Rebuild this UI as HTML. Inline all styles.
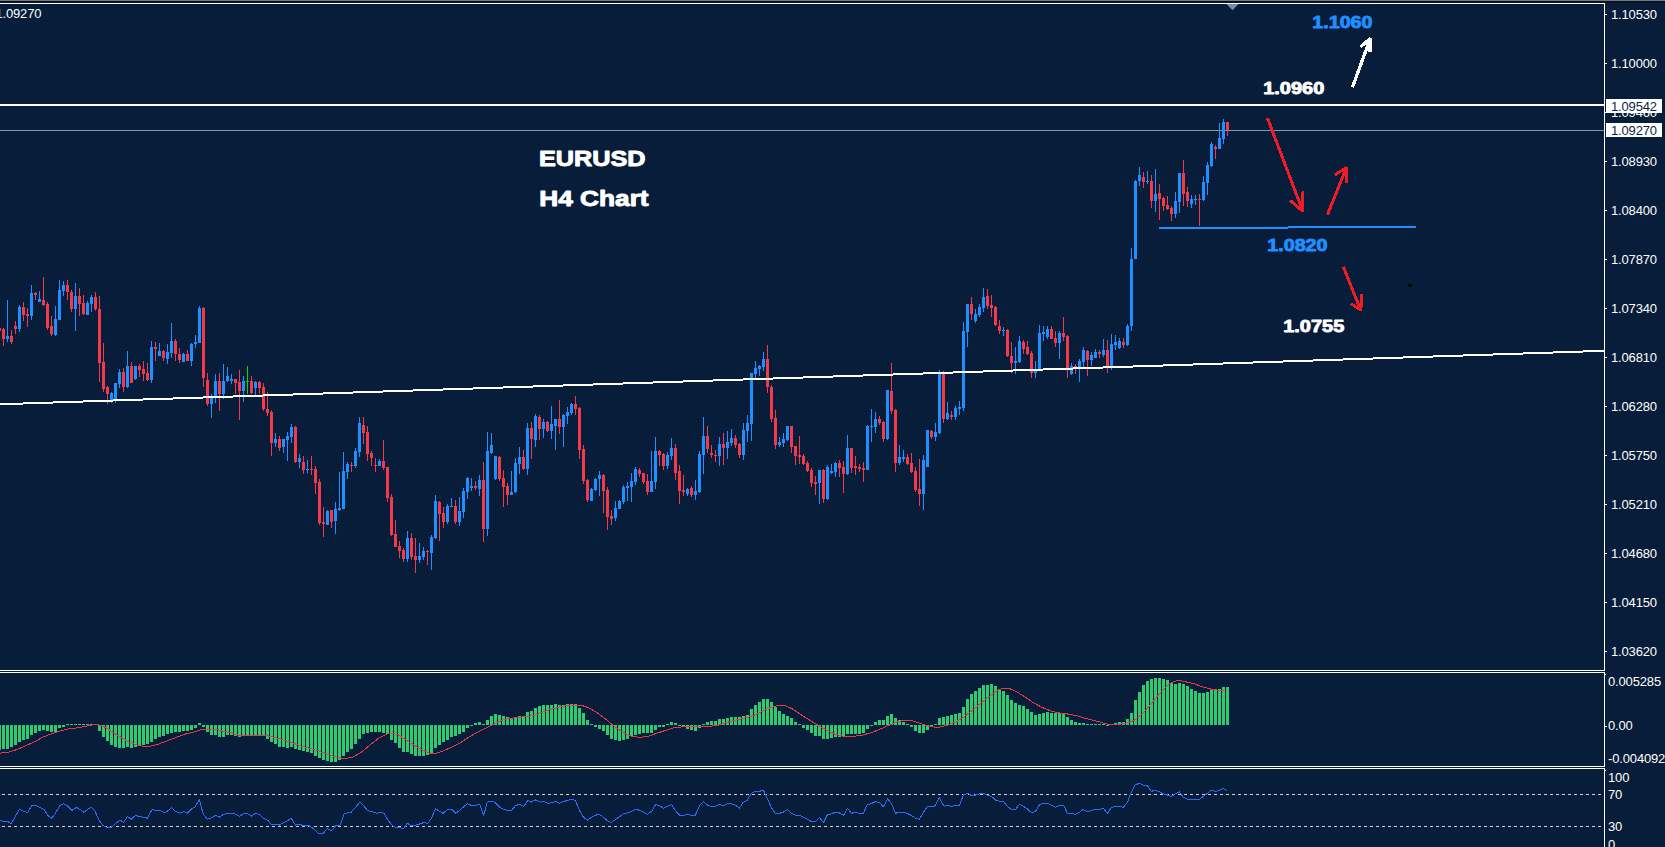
<!DOCTYPE html>
<html lang="en"><head><meta charset="utf-8"><title>EURUSD H4 Chart</title>
<style>html,body{margin:0;padding:0;background:#081d3a;}body{width:1665px;height:847px;overflow:hidden;position:relative;}</style>
</head><body>
<svg width="1665" height="847" viewBox="0 0 1665 847" style="display:block;position:absolute;left:0;top:0">
<rect width="1665" height="847" fill="#081d3a"/>
<g shape-rendering="crispEdges">
<rect x="0" y="0" width="1665" height="1" fill="#7b7872"/>
<rect x="0" y="1" width="1665" height="2" fill="#03132c"/>
<rect x="0" y="3" width="1605" height="1" fill="#fff"/>
<rect x="1604" y="3" width="1" height="668" fill="#fff"/>
<rect x="0" y="670" width="1605" height="1" fill="#fff"/>
<rect x="0" y="672" width="1605" height="1" fill="#fff"/>
<rect x="1604" y="672" width="1" height="95" fill="#fff"/>
<rect x="0" y="766" width="1605" height="1" fill="#fff"/>
<rect x="0" y="768" width="1605" height="1" fill="#fff"/>
<rect x="1604" y="768" width="1" height="79" fill="#fff"/>
<rect x="0" y="104" width="1604" height="2" fill="#fff"/>
<rect x="0" y="130" width="1604" height="1" fill="#8796a8"/>
<rect x="1605" y="14" width="2" height="1" fill="#fff"/>
<rect x="1605" y="63" width="2" height="1" fill="#fff"/>
<rect x="1605" y="112" width="2" height="1" fill="#fff"/>
<rect x="1605" y="161" width="2" height="1" fill="#fff"/>
<rect x="1605" y="210" width="2" height="1" fill="#fff"/>
<rect x="1605" y="259" width="2" height="1" fill="#fff"/>
<rect x="1605" y="308" width="2" height="1" fill="#fff"/>
<rect x="1605" y="357" width="2" height="1" fill="#fff"/>
<rect x="1605" y="406" width="2" height="1" fill="#fff"/>
<rect x="1605" y="455" width="2" height="1" fill="#fff"/>
<rect x="1605" y="504" width="2" height="1" fill="#fff"/>
<rect x="1605" y="553" width="2" height="1" fill="#fff"/>
<rect x="1605" y="602" width="2" height="1" fill="#fff"/>
<rect x="1605" y="651" width="2" height="1" fill="#fff"/>
<rect x="1605" y="674" width="1" height="1" fill="#fff"/>
<rect x="1605" y="726" width="2" height="1" fill="#fff"/>
<rect x="1605" y="770" width="1" height="1" fill="#fff"/>
</g>
<g shape-rendering="crispEdges">
<rect x="-1" y="328" width="1" height="3" fill="#f23a4a"/>
<rect x="-2" y="328" width="3" height="3" fill="#f23a4a"/>
<rect x="3" y="328" width="1" height="18" fill="#f23a4a"/>
<rect x="2" y="329" width="3" height="10" fill="#f23a4a"/>
<rect x="7" y="300" width="1" height="42" fill="#1e90ff"/>
<rect x="6" y="336" width="3" height="3" fill="#1e90ff"/>
<rect x="11" y="330" width="1" height="14" fill="#f23a4a"/>
<rect x="10" y="336" width="3" height="6" fill="#f23a4a"/>
<rect x="15" y="321" width="1" height="13" fill="#f23a4a"/>
<rect x="14" y="326" width="3" height="3" fill="#f23a4a"/>
<rect x="19" y="305" width="1" height="27" fill="#1e90ff"/>
<rect x="18" y="307" width="3" height="22" fill="#1e90ff"/>
<rect x="23" y="302" width="1" height="19" fill="#f23a4a"/>
<rect x="22" y="307" width="3" height="8" fill="#f23a4a"/>
<rect x="27" y="308" width="1" height="19" fill="#f23a4a"/>
<rect x="26" y="314" width="3" height="2" fill="#f23a4a"/>
<rect x="31" y="285" width="1" height="35" fill="#1e90ff"/>
<rect x="30" y="293" width="3" height="23" fill="#1e90ff"/>
<rect x="35" y="292" width="1" height="8" fill="#f23a4a"/>
<rect x="34" y="293" width="3" height="2" fill="#f23a4a"/>
<rect x="39" y="291" width="1" height="11" fill="#1e90ff"/>
<rect x="38" y="299" width="3" height="3" fill="#1e90ff"/>
<rect x="43" y="277" width="1" height="29" fill="#f23a4a"/>
<rect x="42" y="300" width="3" height="5" fill="#f23a4a"/>
<rect x="47" y="302" width="1" height="28" fill="#f23a4a"/>
<rect x="46" y="304" width="3" height="24" fill="#f23a4a"/>
<rect x="51" y="316" width="1" height="20" fill="#f23a4a"/>
<rect x="50" y="326" width="3" height="8" fill="#f23a4a"/>
<rect x="55" y="306" width="1" height="30" fill="#1e90ff"/>
<rect x="54" y="319" width="3" height="16" fill="#1e90ff"/>
<rect x="59" y="280" width="1" height="40" fill="#1e90ff"/>
<rect x="58" y="290" width="3" height="30" fill="#1e90ff"/>
<rect x="63" y="281" width="1" height="15" fill="#1e90ff"/>
<rect x="62" y="285" width="3" height="6" fill="#1e90ff"/>
<rect x="67" y="280" width="1" height="20" fill="#f23a4a"/>
<rect x="66" y="285" width="3" height="7" fill="#f23a4a"/>
<rect x="71" y="290" width="1" height="22" fill="#f23a4a"/>
<rect x="70" y="292" width="3" height="17" fill="#f23a4a"/>
<rect x="75" y="283" width="1" height="48" fill="#1e90ff"/>
<rect x="74" y="296" width="3" height="13" fill="#1e90ff"/>
<rect x="79" y="288" width="1" height="28" fill="#f23a4a"/>
<rect x="78" y="296" width="3" height="8" fill="#f23a4a"/>
<rect x="83" y="295" width="1" height="20" fill="#f23a4a"/>
<rect x="82" y="303" width="3" height="11" fill="#f23a4a"/>
<rect x="87" y="301" width="1" height="14" fill="#1e90ff"/>
<rect x="86" y="303" width="3" height="12" fill="#1e90ff"/>
<rect x="91" y="295" width="1" height="17" fill="#1e90ff"/>
<rect x="90" y="297" width="3" height="7" fill="#1e90ff"/>
<rect x="95" y="292" width="1" height="19" fill="#f23a4a"/>
<rect x="94" y="297" width="3" height="12" fill="#f23a4a"/>
<rect x="99" y="296" width="1" height="86" fill="#f23a4a"/>
<rect x="98" y="309" width="3" height="54" fill="#f23a4a"/>
<rect x="103" y="343" width="1" height="49" fill="#f23a4a"/>
<rect x="102" y="362" width="3" height="27" fill="#f23a4a"/>
<rect x="107" y="386" width="1" height="18" fill="#f23a4a"/>
<rect x="106" y="387" width="3" height="7" fill="#f23a4a"/>
<rect x="111" y="392" width="1" height="11" fill="#1e90ff"/>
<rect x="110" y="393" width="3" height="8" fill="#1e90ff"/>
<rect x="115" y="383" width="1" height="20" fill="#1e90ff"/>
<rect x="114" y="383" width="3" height="17" fill="#1e90ff"/>
<rect x="119" y="369" width="1" height="19" fill="#1e90ff"/>
<rect x="118" y="372" width="3" height="12" fill="#1e90ff"/>
<rect x="123" y="368" width="1" height="24" fill="#f23a4a"/>
<rect x="122" y="372" width="3" height="15" fill="#f23a4a"/>
<rect x="127" y="351" width="1" height="37" fill="#1e90ff"/>
<rect x="126" y="366" width="3" height="21" fill="#1e90ff"/>
<rect x="131" y="362" width="1" height="21" fill="#f23a4a"/>
<rect x="130" y="366" width="3" height="17" fill="#f23a4a"/>
<rect x="135" y="366" width="1" height="14" fill="#1e90ff"/>
<rect x="134" y="366" width="3" height="13" fill="#1e90ff"/>
<rect x="139" y="364" width="1" height="13" fill="#f23a4a"/>
<rect x="138" y="366" width="3" height="4" fill="#f23a4a"/>
<rect x="143" y="361" width="1" height="20" fill="#f23a4a"/>
<rect x="142" y="369" width="3" height="5" fill="#f23a4a"/>
<rect x="147" y="363" width="1" height="18" fill="#f23a4a"/>
<rect x="146" y="373" width="3" height="7" fill="#f23a4a"/>
<rect x="151" y="341" width="1" height="42" fill="#1e90ff"/>
<rect x="150" y="347" width="3" height="33" fill="#1e90ff"/>
<rect x="155" y="342" width="1" height="19" fill="#f23a4a"/>
<rect x="154" y="347" width="3" height="2" fill="#f23a4a"/>
<rect x="159" y="343" width="1" height="13" fill="#1e90ff"/>
<rect x="158" y="351" width="3" height="5" fill="#1e90ff"/>
<rect x="163" y="350" width="1" height="11" fill="#f23a4a"/>
<rect x="162" y="351" width="3" height="7" fill="#f23a4a"/>
<rect x="167" y="344" width="1" height="20" fill="#1e90ff"/>
<rect x="166" y="352" width="3" height="7" fill="#1e90ff"/>
<rect x="171" y="323" width="1" height="35" fill="#1e90ff"/>
<rect x="170" y="341" width="3" height="12" fill="#1e90ff"/>
<rect x="175" y="339" width="1" height="22" fill="#f23a4a"/>
<rect x="174" y="341" width="3" height="13" fill="#f23a4a"/>
<rect x="179" y="348" width="1" height="15" fill="#f23a4a"/>
<rect x="178" y="354" width="3" height="6" fill="#f23a4a"/>
<rect x="183" y="353" width="1" height="9" fill="#1e90ff"/>
<rect x="182" y="354" width="3" height="8" fill="#1e90ff"/>
<rect x="187" y="350" width="1" height="11" fill="#f23a4a"/>
<rect x="186" y="354" width="3" height="7" fill="#f23a4a"/>
<rect x="191" y="343" width="1" height="23" fill="#1e90ff"/>
<rect x="190" y="344" width="3" height="17" fill="#1e90ff"/>
<rect x="195" y="335" width="1" height="13" fill="#1e90ff"/>
<rect x="194" y="342" width="3" height="2" fill="#1e90ff"/>
<rect x="199" y="306" width="1" height="37" fill="#1e90ff"/>
<rect x="198" y="308" width="3" height="35" fill="#1e90ff"/>
<rect x="203" y="307" width="1" height="80" fill="#f23a4a"/>
<rect x="202" y="308" width="3" height="70" fill="#f23a4a"/>
<rect x="207" y="373" width="1" height="33" fill="#f23a4a"/>
<rect x="206" y="380" width="3" height="24" fill="#f23a4a"/>
<rect x="211" y="394" width="1" height="24" fill="#1e90ff"/>
<rect x="210" y="397" width="3" height="7" fill="#1e90ff"/>
<rect x="215" y="374" width="1" height="29" fill="#1e90ff"/>
<rect x="214" y="381" width="3" height="17" fill="#1e90ff"/>
<rect x="219" y="373" width="1" height="38" fill="#f23a4a"/>
<rect x="218" y="381" width="3" height="13" fill="#f23a4a"/>
<rect x="223" y="364" width="1" height="35" fill="#1e90ff"/>
<rect x="222" y="381" width="3" height="13" fill="#1e90ff"/>
<rect x="227" y="367" width="1" height="15" fill="#1e90ff"/>
<rect x="226" y="376" width="3" height="5" fill="#1e90ff"/>
<rect x="231" y="374" width="1" height="10" fill="#1e90ff"/>
<rect x="230" y="379" width="3" height="2" fill="#1e90ff"/>
<rect x="235" y="379" width="1" height="15" fill="#f23a4a"/>
<rect x="234" y="379" width="3" height="4" fill="#f23a4a"/>
<rect x="239" y="370" width="1" height="50" fill="#f23a4a"/>
<rect x="238" y="382" width="3" height="9" fill="#f23a4a"/>
<rect x="243" y="376" width="1" height="26" fill="#1e90ff"/>
<rect x="242" y="381" width="3" height="10" fill="#1e90ff"/>
<rect x="247" y="366" width="1" height="28" fill="#00e000"/>
<rect x="246" y="381" width="3" height="1" fill="#00e000"/>
<rect x="251" y="376" width="1" height="18" fill="#f23a4a"/>
<rect x="250" y="381" width="3" height="12" fill="#f23a4a"/>
<rect x="255" y="381" width="1" height="14" fill="#1e90ff"/>
<rect x="254" y="382" width="3" height="6" fill="#1e90ff"/>
<rect x="259" y="381" width="1" height="13" fill="#f23a4a"/>
<rect x="258" y="382" width="3" height="6" fill="#f23a4a"/>
<rect x="263" y="383" width="1" height="28" fill="#f23a4a"/>
<rect x="262" y="387" width="3" height="22" fill="#f23a4a"/>
<rect x="267" y="392" width="1" height="24" fill="#f23a4a"/>
<rect x="266" y="409" width="3" height="4" fill="#f23a4a"/>
<rect x="271" y="410" width="1" height="46" fill="#f23a4a"/>
<rect x="270" y="412" width="3" height="31" fill="#f23a4a"/>
<rect x="275" y="433" width="1" height="14" fill="#1e90ff"/>
<rect x="274" y="439" width="3" height="4" fill="#1e90ff"/>
<rect x="279" y="436" width="1" height="15" fill="#f23a4a"/>
<rect x="278" y="439" width="3" height="9" fill="#f23a4a"/>
<rect x="283" y="439" width="1" height="14" fill="#1e90ff"/>
<rect x="282" y="439" width="3" height="8" fill="#1e90ff"/>
<rect x="287" y="432" width="1" height="29" fill="#1e90ff"/>
<rect x="286" y="436" width="3" height="4" fill="#1e90ff"/>
<rect x="291" y="424" width="1" height="19" fill="#1e90ff"/>
<rect x="290" y="427" width="3" height="10" fill="#1e90ff"/>
<rect x="295" y="426" width="1" height="37" fill="#f23a4a"/>
<rect x="294" y="427" width="3" height="35" fill="#f23a4a"/>
<rect x="299" y="454" width="1" height="14" fill="#1e90ff"/>
<rect x="298" y="458" width="3" height="4" fill="#1e90ff"/>
<rect x="303" y="456" width="1" height="18" fill="#f23a4a"/>
<rect x="302" y="462" width="3" height="8" fill="#f23a4a"/>
<rect x="307" y="460" width="1" height="13" fill="#1e90ff"/>
<rect x="306" y="469" width="3" height="1" fill="#1e90ff"/>
<rect x="311" y="456" width="1" height="19" fill="#f23a4a"/>
<rect x="310" y="469" width="3" height="1" fill="#f23a4a"/>
<rect x="315" y="466" width="1" height="28" fill="#f23a4a"/>
<rect x="314" y="469" width="3" height="14" fill="#f23a4a"/>
<rect x="319" y="479" width="1" height="46" fill="#f23a4a"/>
<rect x="318" y="482" width="3" height="41" fill="#f23a4a"/>
<rect x="323" y="507" width="1" height="30" fill="#f23a4a"/>
<rect x="322" y="522" width="3" height="2" fill="#f23a4a"/>
<rect x="327" y="510" width="1" height="15" fill="#1e90ff"/>
<rect x="326" y="511" width="3" height="14" fill="#1e90ff"/>
<rect x="331" y="510" width="1" height="18" fill="#f23a4a"/>
<rect x="330" y="510" width="3" height="12" fill="#f23a4a"/>
<rect x="335" y="502" width="1" height="32" fill="#1e90ff"/>
<rect x="334" y="509" width="3" height="12" fill="#1e90ff"/>
<rect x="339" y="472" width="1" height="39" fill="#1e90ff"/>
<rect x="338" y="508" width="3" height="2" fill="#1e90ff"/>
<rect x="343" y="452" width="1" height="57" fill="#1e90ff"/>
<rect x="342" y="471" width="3" height="38" fill="#1e90ff"/>
<rect x="347" y="462" width="1" height="17" fill="#1e90ff"/>
<rect x="346" y="464" width="3" height="8" fill="#1e90ff"/>
<rect x="351" y="462" width="1" height="10" fill="#f23a4a"/>
<rect x="350" y="465" width="3" height="1" fill="#f23a4a"/>
<rect x="355" y="448" width="1" height="20" fill="#1e90ff"/>
<rect x="354" y="451" width="3" height="15" fill="#1e90ff"/>
<rect x="359" y="417" width="1" height="40" fill="#1e90ff"/>
<rect x="358" y="423" width="3" height="29" fill="#1e90ff"/>
<rect x="363" y="417" width="1" height="27" fill="#f23a4a"/>
<rect x="362" y="425" width="3" height="8" fill="#f23a4a"/>
<rect x="367" y="426" width="1" height="35" fill="#f23a4a"/>
<rect x="366" y="432" width="3" height="22" fill="#f23a4a"/>
<rect x="371" y="451" width="1" height="15" fill="#f23a4a"/>
<rect x="370" y="453" width="3" height="5" fill="#f23a4a"/>
<rect x="375" y="458" width="1" height="14" fill="#f23a4a"/>
<rect x="374" y="465" width="3" height="1" fill="#f23a4a"/>
<rect x="379" y="459" width="1" height="7" fill="#1e90ff"/>
<rect x="378" y="461" width="3" height="5" fill="#1e90ff"/>
<rect x="383" y="440" width="1" height="30" fill="#f23a4a"/>
<rect x="382" y="461" width="3" height="7" fill="#f23a4a"/>
<rect x="387" y="467" width="1" height="35" fill="#f23a4a"/>
<rect x="386" y="467" width="3" height="31" fill="#f23a4a"/>
<rect x="391" y="494" width="1" height="42" fill="#f23a4a"/>
<rect x="390" y="497" width="3" height="38" fill="#f23a4a"/>
<rect x="395" y="520" width="1" height="27" fill="#f23a4a"/>
<rect x="394" y="534" width="3" height="13" fill="#f23a4a"/>
<rect x="399" y="541" width="1" height="17" fill="#f23a4a"/>
<rect x="398" y="546" width="3" height="5" fill="#f23a4a"/>
<rect x="403" y="548" width="1" height="14" fill="#f23a4a"/>
<rect x="402" y="550" width="3" height="9" fill="#f23a4a"/>
<rect x="407" y="531" width="1" height="31" fill="#1e90ff"/>
<rect x="406" y="538" width="3" height="21" fill="#1e90ff"/>
<rect x="411" y="533" width="1" height="27" fill="#f23a4a"/>
<rect x="410" y="538" width="3" height="19" fill="#f23a4a"/>
<rect x="415" y="538" width="1" height="35" fill="#f23a4a"/>
<rect x="414" y="556" width="3" height="4" fill="#f23a4a"/>
<rect x="419" y="543" width="1" height="20" fill="#1e90ff"/>
<rect x="418" y="556" width="3" height="4" fill="#1e90ff"/>
<rect x="423" y="547" width="1" height="13" fill="#1e90ff"/>
<rect x="422" y="551" width="3" height="6" fill="#1e90ff"/>
<rect x="427" y="550" width="1" height="15" fill="#f23a4a"/>
<rect x="426" y="551" width="3" height="1" fill="#f23a4a"/>
<rect x="431" y="535" width="1" height="35" fill="#1e90ff"/>
<rect x="430" y="537" width="3" height="16" fill="#1e90ff"/>
<rect x="435" y="495" width="1" height="44" fill="#1e90ff"/>
<rect x="434" y="501" width="3" height="37" fill="#1e90ff"/>
<rect x="439" y="501" width="1" height="40" fill="#f23a4a"/>
<rect x="438" y="502" width="3" height="12" fill="#f23a4a"/>
<rect x="443" y="507" width="1" height="21" fill="#f23a4a"/>
<rect x="442" y="513" width="3" height="9" fill="#f23a4a"/>
<rect x="447" y="504" width="1" height="20" fill="#1e90ff"/>
<rect x="446" y="506" width="3" height="16" fill="#1e90ff"/>
<rect x="451" y="498" width="1" height="9" fill="#1e90ff"/>
<rect x="450" y="506" width="3" height="1" fill="#1e90ff"/>
<rect x="455" y="500" width="1" height="24" fill="#f23a4a"/>
<rect x="454" y="506" width="3" height="16" fill="#f23a4a"/>
<rect x="459" y="497" width="1" height="29" fill="#1e90ff"/>
<rect x="458" y="511" width="3" height="11" fill="#1e90ff"/>
<rect x="463" y="488" width="1" height="30" fill="#1e90ff"/>
<rect x="462" y="491" width="3" height="21" fill="#1e90ff"/>
<rect x="467" y="477" width="1" height="22" fill="#1e90ff"/>
<rect x="466" y="478" width="3" height="14" fill="#1e90ff"/>
<rect x="471" y="478" width="1" height="13" fill="#1e90ff"/>
<rect x="470" y="486" width="3" height="2" fill="#1e90ff"/>
<rect x="475" y="481" width="1" height="9" fill="#f23a4a"/>
<rect x="474" y="486" width="3" height="2" fill="#f23a4a"/>
<rect x="479" y="475" width="1" height="21" fill="#1e90ff"/>
<rect x="478" y="480" width="3" height="9" fill="#1e90ff"/>
<rect x="483" y="462" width="1" height="80" fill="#f23a4a"/>
<rect x="482" y="480" width="3" height="49" fill="#f23a4a"/>
<rect x="487" y="432" width="1" height="104" fill="#1e90ff"/>
<rect x="486" y="451" width="3" height="78" fill="#1e90ff"/>
<rect x="491" y="433" width="1" height="21" fill="#1e90ff"/>
<rect x="490" y="445" width="3" height="8" fill="#1e90ff"/>
<rect x="495" y="456" width="1" height="24" fill="#1e90ff"/>
<rect x="494" y="456" width="3" height="23" fill="#1e90ff"/>
<rect x="499" y="456" width="1" height="25" fill="#f23a4a"/>
<rect x="498" y="457" width="3" height="22" fill="#f23a4a"/>
<rect x="503" y="470" width="1" height="37" fill="#f23a4a"/>
<rect x="502" y="478" width="3" height="9" fill="#f23a4a"/>
<rect x="507" y="483" width="1" height="22" fill="#f23a4a"/>
<rect x="506" y="486" width="3" height="9" fill="#f23a4a"/>
<rect x="511" y="471" width="1" height="24" fill="#1e90ff"/>
<rect x="510" y="492" width="3" height="3" fill="#1e90ff"/>
<rect x="515" y="458" width="1" height="35" fill="#1e90ff"/>
<rect x="514" y="463" width="3" height="29" fill="#1e90ff"/>
<rect x="519" y="447" width="1" height="27" fill="#1e90ff"/>
<rect x="518" y="457" width="3" height="7" fill="#1e90ff"/>
<rect x="523" y="450" width="1" height="20" fill="#f23a4a"/>
<rect x="522" y="457" width="3" height="12" fill="#f23a4a"/>
<rect x="527" y="423" width="1" height="52" fill="#1e90ff"/>
<rect x="526" y="428" width="3" height="41" fill="#1e90ff"/>
<rect x="531" y="422" width="1" height="37" fill="#f23a4a"/>
<rect x="530" y="428" width="3" height="11" fill="#f23a4a"/>
<rect x="535" y="414" width="1" height="33" fill="#1e90ff"/>
<rect x="534" y="416" width="3" height="24" fill="#1e90ff"/>
<rect x="539" y="415" width="1" height="25" fill="#f23a4a"/>
<rect x="538" y="417" width="3" height="12" fill="#f23a4a"/>
<rect x="543" y="419" width="1" height="19" fill="#1e90ff"/>
<rect x="542" y="422" width="3" height="7" fill="#1e90ff"/>
<rect x="547" y="421" width="1" height="11" fill="#f23a4a"/>
<rect x="546" y="422" width="3" height="9" fill="#f23a4a"/>
<rect x="551" y="406" width="1" height="33" fill="#1e90ff"/>
<rect x="550" y="424" width="3" height="7" fill="#1e90ff"/>
<rect x="555" y="419" width="1" height="31" fill="#1e90ff"/>
<rect x="554" y="419" width="3" height="7" fill="#1e90ff"/>
<rect x="559" y="400" width="1" height="34" fill="#f23a4a"/>
<rect x="558" y="419" width="3" height="8" fill="#f23a4a"/>
<rect x="563" y="414" width="1" height="33" fill="#1e90ff"/>
<rect x="562" y="415" width="3" height="12" fill="#1e90ff"/>
<rect x="567" y="407" width="1" height="17" fill="#1e90ff"/>
<rect x="566" y="412" width="3" height="4" fill="#1e90ff"/>
<rect x="571" y="403" width="1" height="12" fill="#1e90ff"/>
<rect x="570" y="404" width="3" height="9" fill="#1e90ff"/>
<rect x="575" y="396" width="1" height="19" fill="#f23a4a"/>
<rect x="574" y="404" width="3" height="5" fill="#f23a4a"/>
<rect x="579" y="407" width="1" height="52" fill="#f23a4a"/>
<rect x="578" y="408" width="3" height="42" fill="#f23a4a"/>
<rect x="583" y="445" width="1" height="39" fill="#f23a4a"/>
<rect x="582" y="449" width="3" height="32" fill="#f23a4a"/>
<rect x="587" y="479" width="1" height="23" fill="#f23a4a"/>
<rect x="586" y="480" width="3" height="20" fill="#f23a4a"/>
<rect x="591" y="488" width="1" height="13" fill="#1e90ff"/>
<rect x="590" y="489" width="3" height="12" fill="#1e90ff"/>
<rect x="595" y="478" width="1" height="13" fill="#1e90ff"/>
<rect x="594" y="479" width="3" height="11" fill="#1e90ff"/>
<rect x="599" y="471" width="1" height="25" fill="#1e90ff"/>
<rect x="598" y="475" width="3" height="4" fill="#1e90ff"/>
<rect x="603" y="474" width="1" height="39" fill="#f23a4a"/>
<rect x="602" y="475" width="3" height="16" fill="#f23a4a"/>
<rect x="607" y="487" width="1" height="43" fill="#f23a4a"/>
<rect x="606" y="490" width="3" height="27" fill="#f23a4a"/>
<rect x="611" y="510" width="1" height="15" fill="#f23a4a"/>
<rect x="610" y="516" width="3" height="3" fill="#f23a4a"/>
<rect x="615" y="501" width="1" height="20" fill="#1e90ff"/>
<rect x="614" y="508" width="3" height="10" fill="#1e90ff"/>
<rect x="619" y="500" width="1" height="9" fill="#1e90ff"/>
<rect x="618" y="501" width="3" height="8" fill="#1e90ff"/>
<rect x="623" y="485" width="1" height="19" fill="#1e90ff"/>
<rect x="622" y="487" width="3" height="15" fill="#1e90ff"/>
<rect x="627" y="482" width="1" height="19" fill="#1e90ff"/>
<rect x="626" y="486" width="3" height="2" fill="#1e90ff"/>
<rect x="631" y="473" width="1" height="29" fill="#1e90ff"/>
<rect x="630" y="481" width="3" height="6" fill="#1e90ff"/>
<rect x="635" y="467" width="1" height="18" fill="#1e90ff"/>
<rect x="634" y="469" width="3" height="13" fill="#1e90ff"/>
<rect x="639" y="468" width="1" height="9" fill="#f23a4a"/>
<rect x="638" y="470" width="3" height="4" fill="#f23a4a"/>
<rect x="643" y="473" width="1" height="11" fill="#f23a4a"/>
<rect x="642" y="473" width="3" height="9" fill="#f23a4a"/>
<rect x="647" y="474" width="1" height="21" fill="#f23a4a"/>
<rect x="646" y="481" width="3" height="11" fill="#f23a4a"/>
<rect x="651" y="451" width="1" height="41" fill="#1e90ff"/>
<rect x="650" y="481" width="3" height="11" fill="#1e90ff"/>
<rect x="655" y="437" width="1" height="52" fill="#1e90ff"/>
<rect x="654" y="451" width="3" height="31" fill="#1e90ff"/>
<rect x="659" y="450" width="1" height="16" fill="#f23a4a"/>
<rect x="658" y="451" width="3" height="4" fill="#f23a4a"/>
<rect x="663" y="453" width="1" height="17" fill="#f23a4a"/>
<rect x="662" y="454" width="3" height="12" fill="#f23a4a"/>
<rect x="667" y="452" width="1" height="17" fill="#1e90ff"/>
<rect x="666" y="455" width="3" height="11" fill="#1e90ff"/>
<rect x="671" y="438" width="1" height="22" fill="#1e90ff"/>
<rect x="670" y="448" width="3" height="8" fill="#1e90ff"/>
<rect x="675" y="444" width="1" height="36" fill="#f23a4a"/>
<rect x="674" y="448" width="3" height="25" fill="#f23a4a"/>
<rect x="679" y="465" width="1" height="39" fill="#f23a4a"/>
<rect x="678" y="471" width="3" height="20" fill="#f23a4a"/>
<rect x="683" y="475" width="1" height="21" fill="#f23a4a"/>
<rect x="682" y="490" width="3" height="2" fill="#f23a4a"/>
<rect x="687" y="488" width="1" height="8" fill="#1e90ff"/>
<rect x="686" y="489" width="3" height="5" fill="#1e90ff"/>
<rect x="691" y="486" width="1" height="11" fill="#f23a4a"/>
<rect x="690" y="488" width="3" height="7" fill="#f23a4a"/>
<rect x="695" y="480" width="1" height="20" fill="#1e90ff"/>
<rect x="694" y="491" width="3" height="4" fill="#1e90ff"/>
<rect x="699" y="451" width="1" height="42" fill="#1e90ff"/>
<rect x="698" y="454" width="3" height="38" fill="#1e90ff"/>
<rect x="703" y="417" width="1" height="57" fill="#1e90ff"/>
<rect x="702" y="436" width="3" height="19" fill="#1e90ff"/>
<rect x="707" y="426" width="1" height="27" fill="#f23a4a"/>
<rect x="706" y="436" width="3" height="13" fill="#f23a4a"/>
<rect x="711" y="445" width="1" height="13" fill="#f23a4a"/>
<rect x="710" y="453" width="3" height="2" fill="#f23a4a"/>
<rect x="715" y="450" width="1" height="12" fill="#f23a4a"/>
<rect x="714" y="455" width="3" height="1" fill="#f23a4a"/>
<rect x="719" y="437" width="1" height="29" fill="#1e90ff"/>
<rect x="718" y="444" width="3" height="12" fill="#1e90ff"/>
<rect x="723" y="433" width="1" height="32" fill="#f23a4a"/>
<rect x="722" y="444" width="3" height="4" fill="#f23a4a"/>
<rect x="727" y="431" width="1" height="28" fill="#1e90ff"/>
<rect x="726" y="442" width="3" height="6" fill="#1e90ff"/>
<rect x="731" y="429" width="1" height="17" fill="#1e90ff"/>
<rect x="730" y="438" width="3" height="5" fill="#1e90ff"/>
<rect x="735" y="435" width="1" height="13" fill="#f23a4a"/>
<rect x="734" y="438" width="3" height="7" fill="#f23a4a"/>
<rect x="739" y="443" width="1" height="15" fill="#f23a4a"/>
<rect x="738" y="444" width="3" height="11" fill="#f23a4a"/>
<rect x="743" y="423" width="1" height="37" fill="#1e90ff"/>
<rect x="742" y="430" width="3" height="25" fill="#1e90ff"/>
<rect x="747" y="415" width="1" height="27" fill="#1e90ff"/>
<rect x="746" y="423" width="3" height="8" fill="#1e90ff"/>
<rect x="751" y="373" width="1" height="68" fill="#1e90ff"/>
<rect x="750" y="373" width="3" height="51" fill="#1e90ff"/>
<rect x="755" y="361" width="1" height="17" fill="#1e90ff"/>
<rect x="754" y="368" width="3" height="6" fill="#1e90ff"/>
<rect x="759" y="365" width="1" height="11" fill="#1e90ff"/>
<rect x="758" y="366" width="3" height="3" fill="#1e90ff"/>
<rect x="763" y="352" width="1" height="19" fill="#1e90ff"/>
<rect x="762" y="359" width="3" height="8" fill="#1e90ff"/>
<rect x="767" y="345" width="1" height="48" fill="#f23a4a"/>
<rect x="766" y="359" width="3" height="28" fill="#f23a4a"/>
<rect x="771" y="385" width="1" height="37" fill="#f23a4a"/>
<rect x="770" y="387" width="3" height="32" fill="#f23a4a"/>
<rect x="775" y="410" width="1" height="39" fill="#f23a4a"/>
<rect x="774" y="418" width="3" height="27" fill="#f23a4a"/>
<rect x="779" y="437" width="1" height="10" fill="#1e90ff"/>
<rect x="778" y="442" width="3" height="3" fill="#1e90ff"/>
<rect x="783" y="433" width="1" height="14" fill="#1e90ff"/>
<rect x="782" y="439" width="3" height="4" fill="#1e90ff"/>
<rect x="787" y="426" width="1" height="15" fill="#1e90ff"/>
<rect x="786" y="426" width="3" height="14" fill="#1e90ff"/>
<rect x="791" y="426" width="1" height="27" fill="#f23a4a"/>
<rect x="790" y="426" width="3" height="21" fill="#f23a4a"/>
<rect x="795" y="446" width="1" height="19" fill="#f23a4a"/>
<rect x="794" y="446" width="3" height="10" fill="#f23a4a"/>
<rect x="799" y="436" width="1" height="28" fill="#f23a4a"/>
<rect x="798" y="455" width="3" height="2" fill="#f23a4a"/>
<rect x="803" y="454" width="1" height="11" fill="#f23a4a"/>
<rect x="802" y="456" width="3" height="8" fill="#f23a4a"/>
<rect x="807" y="461" width="1" height="11" fill="#f23a4a"/>
<rect x="806" y="463" width="3" height="8" fill="#f23a4a"/>
<rect x="811" y="468" width="1" height="19" fill="#f23a4a"/>
<rect x="810" y="470" width="3" height="13" fill="#f23a4a"/>
<rect x="815" y="476" width="1" height="19" fill="#f23a4a"/>
<rect x="814" y="482" width="3" height="2" fill="#f23a4a"/>
<rect x="819" y="470" width="1" height="34" fill="#1e90ff"/>
<rect x="818" y="470" width="3" height="13" fill="#1e90ff"/>
<rect x="823" y="469" width="1" height="34" fill="#f23a4a"/>
<rect x="822" y="470" width="3" height="29" fill="#f23a4a"/>
<rect x="827" y="465" width="1" height="35" fill="#1e90ff"/>
<rect x="826" y="467" width="3" height="32" fill="#1e90ff"/>
<rect x="831" y="464" width="1" height="10" fill="#1e90ff"/>
<rect x="830" y="471" width="3" height="2" fill="#1e90ff"/>
<rect x="835" y="462" width="1" height="15" fill="#1e90ff"/>
<rect x="834" y="463" width="3" height="9" fill="#1e90ff"/>
<rect x="839" y="460" width="1" height="17" fill="#f23a4a"/>
<rect x="838" y="463" width="3" height="5" fill="#f23a4a"/>
<rect x="843" y="461" width="1" height="32" fill="#f23a4a"/>
<rect x="842" y="467" width="3" height="7" fill="#f23a4a"/>
<rect x="847" y="435" width="1" height="40" fill="#1e90ff"/>
<rect x="846" y="448" width="3" height="26" fill="#1e90ff"/>
<rect x="851" y="448" width="1" height="25" fill="#f23a4a"/>
<rect x="850" y="448" width="3" height="20" fill="#f23a4a"/>
<rect x="855" y="456" width="1" height="19" fill="#f23a4a"/>
<rect x="854" y="466" width="3" height="2" fill="#f23a4a"/>
<rect x="859" y="464" width="1" height="8" fill="#f23a4a"/>
<rect x="858" y="467" width="3" height="2" fill="#f23a4a"/>
<rect x="863" y="462" width="1" height="20" fill="#f23a4a"/>
<rect x="862" y="468" width="3" height="2" fill="#f23a4a"/>
<rect x="867" y="425" width="1" height="45" fill="#1e90ff"/>
<rect x="866" y="426" width="3" height="44" fill="#1e90ff"/>
<rect x="871" y="409" width="1" height="33" fill="#1e90ff"/>
<rect x="870" y="426" width="3" height="1" fill="#1e90ff"/>
<rect x="875" y="412" width="1" height="21" fill="#1e90ff"/>
<rect x="874" y="419" width="3" height="8" fill="#1e90ff"/>
<rect x="879" y="416" width="1" height="9" fill="#f23a4a"/>
<rect x="878" y="419" width="3" height="4" fill="#f23a4a"/>
<rect x="883" y="421" width="1" height="21" fill="#f23a4a"/>
<rect x="882" y="422" width="3" height="17" fill="#f23a4a"/>
<rect x="887" y="390" width="1" height="50" fill="#1e90ff"/>
<rect x="886" y="390" width="3" height="49" fill="#1e90ff"/>
<rect x="891" y="363" width="1" height="51" fill="#f23a4a"/>
<rect x="890" y="391" width="3" height="20" fill="#f23a4a"/>
<rect x="895" y="409" width="1" height="63" fill="#f23a4a"/>
<rect x="894" y="410" width="3" height="53" fill="#f23a4a"/>
<rect x="899" y="445" width="1" height="20" fill="#1e90ff"/>
<rect x="898" y="457" width="3" height="6" fill="#1e90ff"/>
<rect x="903" y="450" width="1" height="12" fill="#1e90ff"/>
<rect x="902" y="457" width="3" height="2" fill="#1e90ff"/>
<rect x="907" y="454" width="1" height="11" fill="#f23a4a"/>
<rect x="906" y="457" width="3" height="7" fill="#f23a4a"/>
<rect x="911" y="453" width="1" height="20" fill="#f23a4a"/>
<rect x="910" y="463" width="3" height="9" fill="#f23a4a"/>
<rect x="915" y="467" width="1" height="25" fill="#f23a4a"/>
<rect x="914" y="471" width="3" height="19" fill="#f23a4a"/>
<rect x="919" y="459" width="1" height="47" fill="#f23a4a"/>
<rect x="918" y="489" width="3" height="5" fill="#f23a4a"/>
<rect x="923" y="455" width="1" height="55" fill="#1e90ff"/>
<rect x="922" y="460" width="3" height="34" fill="#1e90ff"/>
<rect x="927" y="430" width="1" height="37" fill="#1e90ff"/>
<rect x="926" y="430" width="3" height="37" fill="#1e90ff"/>
<rect x="931" y="430" width="1" height="9" fill="#f23a4a"/>
<rect x="930" y="431" width="3" height="6" fill="#f23a4a"/>
<rect x="935" y="423" width="1" height="18" fill="#1e90ff"/>
<rect x="934" y="432" width="3" height="5" fill="#1e90ff"/>
<rect x="939" y="370" width="1" height="64" fill="#1e90ff"/>
<rect x="938" y="372" width="3" height="61" fill="#1e90ff"/>
<rect x="943" y="371" width="1" height="52" fill="#f23a4a"/>
<rect x="942" y="372" width="3" height="47" fill="#f23a4a"/>
<rect x="947" y="402" width="1" height="18" fill="#1e90ff"/>
<rect x="946" y="413" width="3" height="6" fill="#1e90ff"/>
<rect x="951" y="411" width="1" height="9" fill="#f23a4a"/>
<rect x="950" y="415" width="3" height="2" fill="#f23a4a"/>
<rect x="955" y="406" width="1" height="14" fill="#1e90ff"/>
<rect x="954" y="408" width="3" height="9" fill="#1e90ff"/>
<rect x="959" y="401" width="1" height="14" fill="#1e90ff"/>
<rect x="958" y="407" width="3" height="2" fill="#1e90ff"/>
<rect x="963" y="322" width="1" height="89" fill="#1e90ff"/>
<rect x="962" y="331" width="3" height="77" fill="#1e90ff"/>
<rect x="967" y="304" width="1" height="43" fill="#1e90ff"/>
<rect x="966" y="304" width="3" height="28" fill="#1e90ff"/>
<rect x="971" y="297" width="1" height="23" fill="#f23a4a"/>
<rect x="970" y="304" width="3" height="10" fill="#f23a4a"/>
<rect x="975" y="309" width="1" height="14" fill="#1e90ff"/>
<rect x="974" y="314" width="3" height="7" fill="#1e90ff"/>
<rect x="979" y="304" width="1" height="13" fill="#1e90ff"/>
<rect x="978" y="307" width="3" height="8" fill="#1e90ff"/>
<rect x="983" y="288" width="1" height="24" fill="#1e90ff"/>
<rect x="982" y="297" width="3" height="11" fill="#1e90ff"/>
<rect x="987" y="289" width="1" height="20" fill="#f23a4a"/>
<rect x="986" y="296" width="3" height="10" fill="#f23a4a"/>
<rect x="991" y="295" width="1" height="22" fill="#f23a4a"/>
<rect x="990" y="305" width="3" height="3" fill="#f23a4a"/>
<rect x="995" y="306" width="1" height="20" fill="#f23a4a"/>
<rect x="994" y="307" width="3" height="18" fill="#f23a4a"/>
<rect x="999" y="320" width="1" height="14" fill="#f23a4a"/>
<rect x="998" y="326" width="3" height="5" fill="#f23a4a"/>
<rect x="1003" y="327" width="1" height="9" fill="#1e90ff"/>
<rect x="1002" y="330" width="3" height="1" fill="#1e90ff"/>
<rect x="1007" y="329" width="1" height="28" fill="#f23a4a"/>
<rect x="1006" y="330" width="3" height="26" fill="#f23a4a"/>
<rect x="1011" y="342" width="1" height="31" fill="#f23a4a"/>
<rect x="1010" y="356" width="3" height="7" fill="#f23a4a"/>
<rect x="1015" y="347" width="1" height="27" fill="#1e90ff"/>
<rect x="1014" y="361" width="3" height="2" fill="#1e90ff"/>
<rect x="1019" y="336" width="1" height="27" fill="#1e90ff"/>
<rect x="1018" y="341" width="3" height="21" fill="#1e90ff"/>
<rect x="1023" y="340" width="1" height="14" fill="#f23a4a"/>
<rect x="1022" y="342" width="3" height="7" fill="#f23a4a"/>
<rect x="1027" y="341" width="1" height="14" fill="#f23a4a"/>
<rect x="1026" y="347" width="3" height="7" fill="#f23a4a"/>
<rect x="1031" y="351" width="1" height="27" fill="#f23a4a"/>
<rect x="1030" y="353" width="3" height="20" fill="#f23a4a"/>
<rect x="1035" y="361" width="1" height="17" fill="#1e90ff"/>
<rect x="1034" y="370" width="3" height="3" fill="#1e90ff"/>
<rect x="1039" y="325" width="1" height="46" fill="#1e90ff"/>
<rect x="1038" y="333" width="3" height="38" fill="#1e90ff"/>
<rect x="1043" y="326" width="1" height="15" fill="#1e90ff"/>
<rect x="1042" y="332" width="3" height="2" fill="#1e90ff"/>
<rect x="1047" y="326" width="1" height="13" fill="#1e90ff"/>
<rect x="1046" y="329" width="3" height="8" fill="#1e90ff"/>
<rect x="1051" y="326" width="1" height="13" fill="#f23a4a"/>
<rect x="1050" y="329" width="3" height="10" fill="#f23a4a"/>
<rect x="1055" y="331" width="1" height="16" fill="#f23a4a"/>
<rect x="1054" y="338" width="3" height="5" fill="#f23a4a"/>
<rect x="1059" y="331" width="1" height="28" fill="#1e90ff"/>
<rect x="1058" y="333" width="3" height="10" fill="#1e90ff"/>
<rect x="1063" y="317" width="1" height="24" fill="#f23a4a"/>
<rect x="1062" y="333" width="3" height="4" fill="#f23a4a"/>
<rect x="1067" y="335" width="1" height="43" fill="#f23a4a"/>
<rect x="1066" y="336" width="3" height="34" fill="#f23a4a"/>
<rect x="1071" y="363" width="1" height="12" fill="#1e90ff"/>
<rect x="1070" y="366" width="3" height="8" fill="#1e90ff"/>
<rect x="1075" y="364" width="1" height="10" fill="#f23a4a"/>
<rect x="1074" y="366" width="3" height="2" fill="#f23a4a"/>
<rect x="1079" y="359" width="1" height="23" fill="#1e90ff"/>
<rect x="1078" y="361" width="3" height="8" fill="#1e90ff"/>
<rect x="1083" y="347" width="1" height="20" fill="#1e90ff"/>
<rect x="1082" y="350" width="3" height="12" fill="#1e90ff"/>
<rect x="1087" y="350" width="1" height="26" fill="#f23a4a"/>
<rect x="1086" y="351" width="3" height="9" fill="#f23a4a"/>
<rect x="1091" y="352" width="1" height="14" fill="#1e90ff"/>
<rect x="1090" y="355" width="3" height="5" fill="#1e90ff"/>
<rect x="1095" y="349" width="1" height="9" fill="#1e90ff"/>
<rect x="1094" y="352" width="3" height="6" fill="#1e90ff"/>
<rect x="1099" y="350" width="1" height="8" fill="#f23a4a"/>
<rect x="1098" y="352" width="3" height="2" fill="#f23a4a"/>
<rect x="1103" y="339" width="1" height="18" fill="#1e90ff"/>
<rect x="1102" y="350" width="3" height="5" fill="#1e90ff"/>
<rect x="1107" y="340" width="1" height="33" fill="#f23a4a"/>
<rect x="1106" y="350" width="3" height="16" fill="#f23a4a"/>
<rect x="1111" y="334" width="1" height="36" fill="#1e90ff"/>
<rect x="1110" y="344" width="3" height="22" fill="#1e90ff"/>
<rect x="1115" y="335" width="1" height="15" fill="#1e90ff"/>
<rect x="1114" y="342" width="3" height="3" fill="#1e90ff"/>
<rect x="1119" y="338" width="1" height="11" fill="#1e90ff"/>
<rect x="1118" y="341" width="3" height="7" fill="#1e90ff"/>
<rect x="1123" y="338" width="1" height="10" fill="#f23a4a"/>
<rect x="1122" y="342" width="3" height="3" fill="#f23a4a"/>
<rect x="1127" y="324" width="1" height="22" fill="#1e90ff"/>
<rect x="1126" y="326" width="3" height="19" fill="#1e90ff"/>
<rect x="1131" y="248" width="1" height="83" fill="#1e90ff"/>
<rect x="1130" y="259" width="3" height="67" fill="#1e90ff"/>
<rect x="1135" y="180" width="1" height="79" fill="#1e90ff"/>
<rect x="1134" y="181" width="3" height="78" fill="#1e90ff"/>
<rect x="1139" y="167" width="1" height="19" fill="#1e90ff"/>
<rect x="1138" y="175" width="3" height="6" fill="#1e90ff"/>
<rect x="1143" y="172" width="1" height="16" fill="#f23a4a"/>
<rect x="1142" y="177" width="3" height="5" fill="#f23a4a"/>
<rect x="1147" y="171" width="1" height="13" fill="#1e90ff"/>
<rect x="1146" y="181" width="3" height="1" fill="#1e90ff"/>
<rect x="1151" y="175" width="1" height="33" fill="#f23a4a"/>
<rect x="1150" y="181" width="3" height="20" fill="#f23a4a"/>
<rect x="1155" y="169" width="1" height="43" fill="#1e90ff"/>
<rect x="1154" y="194" width="3" height="7" fill="#1e90ff"/>
<rect x="1159" y="184" width="1" height="36" fill="#f23a4a"/>
<rect x="1158" y="193" width="3" height="6" fill="#f23a4a"/>
<rect x="1163" y="197" width="1" height="14" fill="#f23a4a"/>
<rect x="1162" y="198" width="3" height="8" fill="#f23a4a"/>
<rect x="1167" y="196" width="1" height="14" fill="#f23a4a"/>
<rect x="1166" y="205" width="3" height="4" fill="#f23a4a"/>
<rect x="1171" y="206" width="1" height="15" fill="#f23a4a"/>
<rect x="1170" y="208" width="3" height="6" fill="#f23a4a"/>
<rect x="1175" y="192" width="1" height="26" fill="#1e90ff"/>
<rect x="1174" y="201" width="3" height="13" fill="#1e90ff"/>
<rect x="1179" y="173" width="1" height="40" fill="#1e90ff"/>
<rect x="1178" y="173" width="3" height="29" fill="#1e90ff"/>
<rect x="1183" y="160" width="1" height="46" fill="#f23a4a"/>
<rect x="1182" y="173" width="3" height="21" fill="#f23a4a"/>
<rect x="1187" y="187" width="1" height="20" fill="#f23a4a"/>
<rect x="1186" y="192" width="3" height="9" fill="#f23a4a"/>
<rect x="1191" y="195" width="1" height="13" fill="#1e90ff"/>
<rect x="1190" y="199" width="3" height="5" fill="#1e90ff"/>
<rect x="1195" y="195" width="1" height="10" fill="#1e90ff"/>
<rect x="1194" y="199" width="3" height="1" fill="#1e90ff"/>
<rect x="1199" y="194" width="1" height="32" fill="#f23a4a"/>
<rect x="1198" y="199" width="3" height="1" fill="#f23a4a"/>
<rect x="1203" y="176" width="1" height="25" fill="#1e90ff"/>
<rect x="1202" y="182" width="3" height="18" fill="#1e90ff"/>
<rect x="1207" y="162" width="1" height="33" fill="#1e90ff"/>
<rect x="1206" y="165" width="3" height="18" fill="#1e90ff"/>
<rect x="1211" y="142" width="1" height="25" fill="#1e90ff"/>
<rect x="1210" y="144" width="3" height="22" fill="#1e90ff"/>
<rect x="1215" y="145" width="1" height="14" fill="#f23a4a"/>
<rect x="1214" y="147" width="3" height="2" fill="#f23a4a"/>
<rect x="1219" y="123" width="1" height="26" fill="#1e90ff"/>
<rect x="1218" y="138" width="3" height="11" fill="#1e90ff"/>
<rect x="1223" y="119" width="1" height="25" fill="#1e90ff"/>
<rect x="1222" y="122" width="3" height="17" fill="#1e90ff"/>
<rect x="1227" y="122" width="1" height="14" fill="#f23a4a"/>
<rect x="1226" y="122" width="3" height="8" fill="#f23a4a"/>
</g>
<g shape-rendering="crispEdges" fill="#fff">
<rect x="0" y="403" width="23" height="2"/>
<rect x="23" y="402" width="30" height="2"/>
<rect x="53" y="401" width="30" height="2"/>
<rect x="83" y="400" width="30" height="2"/>
<rect x="113" y="399" width="30" height="2"/>
<rect x="143" y="398" width="30" height="2"/>
<rect x="173" y="397" width="30" height="2"/>
<rect x="203" y="396" width="30" height="2"/>
<rect x="233" y="395" width="30" height="2"/>
<rect x="263" y="394" width="30" height="2"/>
<rect x="293" y="393" width="30" height="2"/>
<rect x="323" y="392" width="30" height="2"/>
<rect x="353" y="391" width="30" height="2"/>
<rect x="383" y="390" width="30" height="2"/>
<rect x="413" y="389" width="30" height="2"/>
<rect x="443" y="388" width="30" height="2"/>
<rect x="473" y="387" width="30" height="2"/>
<rect x="503" y="386" width="30" height="2"/>
<rect x="533" y="385" width="30" height="2"/>
<rect x="563" y="384" width="30" height="2"/>
<rect x="593" y="383" width="30" height="2"/>
<rect x="623" y="382" width="30" height="2"/>
<rect x="653" y="381" width="30" height="2"/>
<rect x="683" y="380" width="30" height="2"/>
<rect x="713" y="379" width="30" height="2"/>
<rect x="743" y="378" width="30" height="2"/>
<rect x="773" y="377" width="30" height="2"/>
<rect x="803" y="376" width="30" height="2"/>
<rect x="833" y="375" width="30" height="2"/>
<rect x="863" y="374" width="30" height="2"/>
<rect x="893" y="373" width="30" height="2"/>
<rect x="923" y="372" width="30" height="2"/>
<rect x="953" y="371" width="30" height="2"/>
<rect x="983" y="370" width="30" height="2"/>
<rect x="1013" y="369" width="30" height="2"/>
<rect x="1043" y="368" width="30" height="2"/>
<rect x="1073" y="367" width="30" height="2"/>
<rect x="1103" y="366" width="30" height="2"/>
<rect x="1133" y="365" width="30" height="2"/>
<rect x="1163" y="364" width="30" height="2"/>
<rect x="1193" y="363" width="30" height="2"/>
<rect x="1223" y="362" width="30" height="2"/>
<rect x="1253" y="361" width="30" height="2"/>
<rect x="1283" y="360" width="30" height="2"/>
<rect x="1313" y="359" width="30" height="2"/>
<rect x="1343" y="358" width="30" height="2"/>
<rect x="1373" y="357" width="30" height="2"/>
<rect x="1403" y="356" width="30" height="2"/>
<rect x="1433" y="355" width="30" height="2"/>
<rect x="1463" y="354" width="30" height="2"/>
<rect x="1493" y="353" width="30" height="2"/>
<rect x="1523" y="352" width="30" height="2"/>
<rect x="1553" y="351" width="30" height="2"/>
<rect x="1583" y="350" width="21" height="2"/>
</g>
<g shape-rendering="crispEdges"><rect x="1159" y="227" width="129" height="2" fill="#1e90ff"/><rect x="1288" y="226" width="128" height="2" fill="#1e90ff"/></g>
<g shape-rendering="crispEdges">
<rect x="-2" y="725" width="3" height="25" fill="#2ecc71"/>
<rect x="2" y="725" width="3" height="24" fill="#2ecc71"/>
<rect x="6" y="725" width="3" height="24" fill="#2ecc71"/>
<rect x="10" y="725" width="3" height="22" fill="#2ecc71"/>
<rect x="14" y="725" width="3" height="20" fill="#2ecc71"/>
<rect x="18" y="725" width="3" height="17" fill="#2ecc71"/>
<rect x="22" y="725" width="3" height="15" fill="#2ecc71"/>
<rect x="26" y="725" width="3" height="14" fill="#2ecc71"/>
<rect x="30" y="725" width="3" height="10" fill="#2ecc71"/>
<rect x="34" y="725" width="3" height="8" fill="#2ecc71"/>
<rect x="38" y="725" width="3" height="6" fill="#2ecc71"/>
<rect x="42" y="725" width="3" height="5" fill="#2ecc71"/>
<rect x="46" y="725" width="3" height="6" fill="#2ecc71"/>
<rect x="50" y="725" width="3" height="7" fill="#2ecc71"/>
<rect x="54" y="725" width="3" height="7" fill="#2ecc71"/>
<rect x="58" y="725" width="3" height="3" fill="#2ecc71"/>
<rect x="62" y="725" width="3" height="2" fill="#2ecc71"/>
<rect x="66" y="724" width="3" height="1" fill="#2ecc71"/>
<rect x="70" y="724" width="3" height="1" fill="#2ecc71"/>
<rect x="74" y="724" width="3" height="1" fill="#2ecc71"/>
<rect x="78" y="724" width="3" height="1" fill="#2ecc71"/>
<rect x="82" y="724" width="3" height="1" fill="#2ecc71"/>
<rect x="86" y="724" width="3" height="1" fill="#2ecc71"/>
<rect x="90" y="724" width="3" height="1" fill="#2ecc71"/>
<rect x="94" y="724" width="3" height="1" fill="#2ecc71"/>
<rect x="98" y="725" width="3" height="6" fill="#2ecc71"/>
<rect x="102" y="725" width="3" height="12" fill="#2ecc71"/>
<rect x="106" y="725" width="3" height="16" fill="#2ecc71"/>
<rect x="110" y="725" width="3" height="20" fill="#2ecc71"/>
<rect x="114" y="725" width="3" height="22" fill="#2ecc71"/>
<rect x="118" y="725" width="3" height="23" fill="#2ecc71"/>
<rect x="122" y="725" width="3" height="23" fill="#2ecc71"/>
<rect x="126" y="725" width="3" height="22" fill="#2ecc71"/>
<rect x="130" y="725" width="3" height="23" fill="#2ecc71"/>
<rect x="134" y="725" width="3" height="22" fill="#2ecc71"/>
<rect x="138" y="725" width="3" height="21" fill="#2ecc71"/>
<rect x="142" y="725" width="3" height="20" fill="#2ecc71"/>
<rect x="146" y="725" width="3" height="19" fill="#2ecc71"/>
<rect x="150" y="725" width="3" height="17" fill="#2ecc71"/>
<rect x="154" y="725" width="3" height="14" fill="#2ecc71"/>
<rect x="158" y="725" width="3" height="12" fill="#2ecc71"/>
<rect x="162" y="725" width="3" height="11" fill="#2ecc71"/>
<rect x="166" y="725" width="3" height="9" fill="#2ecc71"/>
<rect x="170" y="725" width="3" height="8" fill="#2ecc71"/>
<rect x="174" y="725" width="3" height="7" fill="#2ecc71"/>
<rect x="178" y="725" width="3" height="7" fill="#2ecc71"/>
<rect x="182" y="725" width="3" height="6" fill="#2ecc71"/>
<rect x="186" y="725" width="3" height="6" fill="#2ecc71"/>
<rect x="190" y="725" width="3" height="5" fill="#2ecc71"/>
<rect x="194" y="725" width="3" height="3" fill="#2ecc71"/>
<rect x="198" y="723" width="3" height="2" fill="#2ecc71"/>
<rect x="202" y="725" width="3" height="2" fill="#2ecc71"/>
<rect x="206" y="725" width="3" height="7" fill="#2ecc71"/>
<rect x="210" y="725" width="3" height="10" fill="#2ecc71"/>
<rect x="214" y="725" width="3" height="10" fill="#2ecc71"/>
<rect x="218" y="725" width="3" height="12" fill="#2ecc71"/>
<rect x="222" y="725" width="3" height="12" fill="#2ecc71"/>
<rect x="226" y="725" width="3" height="10" fill="#2ecc71"/>
<rect x="230" y="725" width="3" height="10" fill="#2ecc71"/>
<rect x="234" y="725" width="3" height="11" fill="#2ecc71"/>
<rect x="238" y="725" width="3" height="12" fill="#2ecc71"/>
<rect x="242" y="725" width="3" height="11" fill="#2ecc71"/>
<rect x="246" y="725" width="3" height="11" fill="#2ecc71"/>
<rect x="250" y="725" width="3" height="11" fill="#2ecc71"/>
<rect x="254" y="725" width="3" height="11" fill="#2ecc71"/>
<rect x="258" y="725" width="3" height="11" fill="#2ecc71"/>
<rect x="262" y="725" width="3" height="11" fill="#2ecc71"/>
<rect x="266" y="725" width="3" height="14" fill="#2ecc71"/>
<rect x="270" y="725" width="3" height="17" fill="#2ecc71"/>
<rect x="274" y="725" width="3" height="19" fill="#2ecc71"/>
<rect x="278" y="725" width="3" height="22" fill="#2ecc71"/>
<rect x="282" y="725" width="3" height="22" fill="#2ecc71"/>
<rect x="286" y="725" width="3" height="23" fill="#2ecc71"/>
<rect x="290" y="725" width="3" height="22" fill="#2ecc71"/>
<rect x="294" y="725" width="3" height="24" fill="#2ecc71"/>
<rect x="298" y="725" width="3" height="25" fill="#2ecc71"/>
<rect x="302" y="725" width="3" height="26" fill="#2ecc71"/>
<rect x="306" y="725" width="3" height="27" fill="#2ecc71"/>
<rect x="310" y="725" width="3" height="28" fill="#2ecc71"/>
<rect x="314" y="725" width="3" height="31" fill="#2ecc71"/>
<rect x="318" y="725" width="3" height="33" fill="#2ecc71"/>
<rect x="322" y="725" width="3" height="35" fill="#2ecc71"/>
<rect x="326" y="725" width="3" height="36" fill="#2ecc71"/>
<rect x="330" y="725" width="3" height="37" fill="#2ecc71"/>
<rect x="334" y="725" width="3" height="37" fill="#2ecc71"/>
<rect x="338" y="725" width="3" height="35" fill="#2ecc71"/>
<rect x="342" y="725" width="3" height="31" fill="#2ecc71"/>
<rect x="346" y="725" width="3" height="27" fill="#2ecc71"/>
<rect x="350" y="725" width="3" height="24" fill="#2ecc71"/>
<rect x="354" y="725" width="3" height="19" fill="#2ecc71"/>
<rect x="358" y="725" width="3" height="14" fill="#2ecc71"/>
<rect x="362" y="725" width="3" height="9" fill="#2ecc71"/>
<rect x="366" y="725" width="3" height="8" fill="#2ecc71"/>
<rect x="370" y="725" width="3" height="7" fill="#2ecc71"/>
<rect x="374" y="725" width="3" height="7" fill="#2ecc71"/>
<rect x="378" y="725" width="3" height="7" fill="#2ecc71"/>
<rect x="382" y="725" width="3" height="8" fill="#2ecc71"/>
<rect x="386" y="725" width="3" height="9" fill="#2ecc71"/>
<rect x="390" y="725" width="3" height="15" fill="#2ecc71"/>
<rect x="394" y="725" width="3" height="18" fill="#2ecc71"/>
<rect x="398" y="725" width="3" height="23" fill="#2ecc71"/>
<rect x="402" y="725" width="3" height="27" fill="#2ecc71"/>
<rect x="406" y="725" width="3" height="27" fill="#2ecc71"/>
<rect x="410" y="725" width="3" height="29" fill="#2ecc71"/>
<rect x="414" y="725" width="3" height="31" fill="#2ecc71"/>
<rect x="418" y="725" width="3" height="31" fill="#2ecc71"/>
<rect x="422" y="725" width="3" height="31" fill="#2ecc71"/>
<rect x="426" y="725" width="3" height="30" fill="#2ecc71"/>
<rect x="430" y="725" width="3" height="29" fill="#2ecc71"/>
<rect x="434" y="725" width="3" height="23" fill="#2ecc71"/>
<rect x="438" y="725" width="3" height="20" fill="#2ecc71"/>
<rect x="442" y="725" width="3" height="17" fill="#2ecc71"/>
<rect x="446" y="725" width="3" height="15" fill="#2ecc71"/>
<rect x="450" y="725" width="3" height="12" fill="#2ecc71"/>
<rect x="454" y="725" width="3" height="11" fill="#2ecc71"/>
<rect x="458" y="725" width="3" height="9" fill="#2ecc71"/>
<rect x="462" y="725" width="3" height="7" fill="#2ecc71"/>
<rect x="466" y="725" width="3" height="3" fill="#2ecc71"/>
<rect x="470" y="725" width="3" height="1" fill="#2ecc71"/>
<rect x="474" y="723" width="3" height="2" fill="#2ecc71"/>
<rect x="478" y="722" width="3" height="3" fill="#2ecc71"/>
<rect x="482" y="724" width="3" height="1" fill="#2ecc71"/>
<rect x="486" y="720" width="3" height="5" fill="#2ecc71"/>
<rect x="490" y="716" width="3" height="9" fill="#2ecc71"/>
<rect x="494" y="714" width="3" height="11" fill="#2ecc71"/>
<rect x="498" y="715" width="3" height="10" fill="#2ecc71"/>
<rect x="502" y="716" width="3" height="9" fill="#2ecc71"/>
<rect x="506" y="717" width="3" height="8" fill="#2ecc71"/>
<rect x="510" y="718" width="3" height="7" fill="#2ecc71"/>
<rect x="514" y="717" width="3" height="8" fill="#2ecc71"/>
<rect x="518" y="716" width="3" height="9" fill="#2ecc71"/>
<rect x="522" y="716" width="3" height="9" fill="#2ecc71"/>
<rect x="526" y="712" width="3" height="13" fill="#2ecc71"/>
<rect x="530" y="711" width="3" height="14" fill="#2ecc71"/>
<rect x="534" y="708" width="3" height="17" fill="#2ecc71"/>
<rect x="538" y="706" width="3" height="19" fill="#2ecc71"/>
<rect x="542" y="705" width="3" height="20" fill="#2ecc71"/>
<rect x="546" y="705" width="3" height="20" fill="#2ecc71"/>
<rect x="550" y="705" width="3" height="20" fill="#2ecc71"/>
<rect x="554" y="704" width="3" height="21" fill="#2ecc71"/>
<rect x="558" y="705" width="3" height="20" fill="#2ecc71"/>
<rect x="562" y="705" width="3" height="20" fill="#2ecc71"/>
<rect x="566" y="704" width="3" height="21" fill="#2ecc71"/>
<rect x="570" y="704" width="3" height="21" fill="#2ecc71"/>
<rect x="574" y="704" width="3" height="21" fill="#2ecc71"/>
<rect x="578" y="708" width="3" height="17" fill="#2ecc71"/>
<rect x="582" y="713" width="3" height="12" fill="#2ecc71"/>
<rect x="586" y="720" width="3" height="5" fill="#2ecc71"/>
<rect x="590" y="724" width="3" height="1" fill="#2ecc71"/>
<rect x="594" y="725" width="3" height="2" fill="#2ecc71"/>
<rect x="598" y="725" width="3" height="4" fill="#2ecc71"/>
<rect x="602" y="725" width="3" height="6" fill="#2ecc71"/>
<rect x="606" y="725" width="3" height="10" fill="#2ecc71"/>
<rect x="610" y="725" width="3" height="14" fill="#2ecc71"/>
<rect x="614" y="725" width="3" height="15" fill="#2ecc71"/>
<rect x="618" y="725" width="3" height="16" fill="#2ecc71"/>
<rect x="622" y="725" width="3" height="15" fill="#2ecc71"/>
<rect x="626" y="725" width="3" height="14" fill="#2ecc71"/>
<rect x="630" y="725" width="3" height="11" fill="#2ecc71"/>
<rect x="634" y="725" width="3" height="10" fill="#2ecc71"/>
<rect x="638" y="725" width="3" height="9" fill="#2ecc71"/>
<rect x="642" y="725" width="3" height="8" fill="#2ecc71"/>
<rect x="646" y="725" width="3" height="8" fill="#2ecc71"/>
<rect x="650" y="725" width="3" height="8" fill="#2ecc71"/>
<rect x="654" y="725" width="3" height="5" fill="#2ecc71"/>
<rect x="658" y="725" width="3" height="2" fill="#2ecc71"/>
<rect x="662" y="725" width="3" height="2" fill="#2ecc71"/>
<rect x="666" y="724" width="3" height="1" fill="#2ecc71"/>
<rect x="670" y="722" width="3" height="3" fill="#2ecc71"/>
<rect x="674" y="723" width="3" height="2" fill="#2ecc71"/>
<rect x="678" y="725" width="3" height="1" fill="#2ecc71"/>
<rect x="682" y="725" width="3" height="2" fill="#2ecc71"/>
<rect x="686" y="725" width="3" height="4" fill="#2ecc71"/>
<rect x="690" y="725" width="3" height="5" fill="#2ecc71"/>
<rect x="694" y="725" width="3" height="6" fill="#2ecc71"/>
<rect x="698" y="725" width="3" height="3" fill="#2ecc71"/>
<rect x="702" y="724" width="3" height="1" fill="#2ecc71"/>
<rect x="706" y="722" width="3" height="3" fill="#2ecc71"/>
<rect x="710" y="721" width="3" height="4" fill="#2ecc71"/>
<rect x="714" y="721" width="3" height="4" fill="#2ecc71"/>
<rect x="718" y="719" width="3" height="6" fill="#2ecc71"/>
<rect x="722" y="719" width="3" height="6" fill="#2ecc71"/>
<rect x="726" y="718" width="3" height="7" fill="#2ecc71"/>
<rect x="730" y="717" width="3" height="8" fill="#2ecc71"/>
<rect x="734" y="717" width="3" height="8" fill="#2ecc71"/>
<rect x="738" y="717" width="3" height="8" fill="#2ecc71"/>
<rect x="742" y="716" width="3" height="9" fill="#2ecc71"/>
<rect x="746" y="715" width="3" height="10" fill="#2ecc71"/>
<rect x="750" y="709" width="3" height="16" fill="#2ecc71"/>
<rect x="754" y="705" width="3" height="20" fill="#2ecc71"/>
<rect x="758" y="702" width="3" height="23" fill="#2ecc71"/>
<rect x="762" y="699" width="3" height="26" fill="#2ecc71"/>
<rect x="766" y="699" width="3" height="26" fill="#2ecc71"/>
<rect x="770" y="702" width="3" height="23" fill="#2ecc71"/>
<rect x="774" y="707" width="3" height="18" fill="#2ecc71"/>
<rect x="778" y="711" width="3" height="14" fill="#2ecc71"/>
<rect x="782" y="714" width="3" height="11" fill="#2ecc71"/>
<rect x="786" y="716" width="3" height="9" fill="#2ecc71"/>
<rect x="790" y="718" width="3" height="7" fill="#2ecc71"/>
<rect x="794" y="722" width="3" height="3" fill="#2ecc71"/>
<rect x="798" y="724" width="3" height="1" fill="#2ecc71"/>
<rect x="802" y="725" width="3" height="3" fill="#2ecc71"/>
<rect x="806" y="725" width="3" height="5" fill="#2ecc71"/>
<rect x="810" y="725" width="3" height="8" fill="#2ecc71"/>
<rect x="814" y="725" width="3" height="11" fill="#2ecc71"/>
<rect x="818" y="725" width="3" height="11" fill="#2ecc71"/>
<rect x="822" y="725" width="3" height="14" fill="#2ecc71"/>
<rect x="826" y="725" width="3" height="14" fill="#2ecc71"/>
<rect x="830" y="725" width="3" height="13" fill="#2ecc71"/>
<rect x="834" y="725" width="3" height="12" fill="#2ecc71"/>
<rect x="838" y="725" width="3" height="12" fill="#2ecc71"/>
<rect x="842" y="725" width="3" height="11" fill="#2ecc71"/>
<rect x="846" y="725" width="3" height="9" fill="#2ecc71"/>
<rect x="850" y="725" width="3" height="9" fill="#2ecc71"/>
<rect x="854" y="725" width="3" height="9" fill="#2ecc71"/>
<rect x="858" y="725" width="3" height="9" fill="#2ecc71"/>
<rect x="862" y="725" width="3" height="8" fill="#2ecc71"/>
<rect x="866" y="725" width="3" height="4" fill="#2ecc71"/>
<rect x="870" y="725" width="3" height="1" fill="#2ecc71"/>
<rect x="874" y="722" width="3" height="3" fill="#2ecc71"/>
<rect x="878" y="720" width="3" height="5" fill="#2ecc71"/>
<rect x="882" y="720" width="3" height="5" fill="#2ecc71"/>
<rect x="886" y="716" width="3" height="9" fill="#2ecc71"/>
<rect x="890" y="714" width="3" height="11" fill="#2ecc71"/>
<rect x="894" y="718" width="3" height="7" fill="#2ecc71"/>
<rect x="898" y="720" width="3" height="5" fill="#2ecc71"/>
<rect x="902" y="722" width="3" height="3" fill="#2ecc71"/>
<rect x="906" y="724" width="3" height="1" fill="#2ecc71"/>
<rect x="910" y="725" width="3" height="2" fill="#2ecc71"/>
<rect x="914" y="725" width="3" height="6" fill="#2ecc71"/>
<rect x="918" y="725" width="3" height="8" fill="#2ecc71"/>
<rect x="922" y="725" width="3" height="8" fill="#2ecc71"/>
<rect x="926" y="725" width="3" height="5" fill="#2ecc71"/>
<rect x="930" y="725" width="3" height="2" fill="#2ecc71"/>
<rect x="934" y="724" width="3" height="1" fill="#2ecc71"/>
<rect x="938" y="718" width="3" height="7" fill="#2ecc71"/>
<rect x="942" y="717" width="3" height="8" fill="#2ecc71"/>
<rect x="946" y="716" width="3" height="9" fill="#2ecc71"/>
<rect x="950" y="715" width="3" height="10" fill="#2ecc71"/>
<rect x="954" y="714" width="3" height="11" fill="#2ecc71"/>
<rect x="958" y="713" width="3" height="12" fill="#2ecc71"/>
<rect x="962" y="707" width="3" height="18" fill="#2ecc71"/>
<rect x="966" y="699" width="3" height="26" fill="#2ecc71"/>
<rect x="970" y="694" width="3" height="31" fill="#2ecc71"/>
<rect x="974" y="691" width="3" height="34" fill="#2ecc71"/>
<rect x="978" y="688" width="3" height="37" fill="#2ecc71"/>
<rect x="982" y="685" width="3" height="40" fill="#2ecc71"/>
<rect x="986" y="685" width="3" height="40" fill="#2ecc71"/>
<rect x="990" y="684" width="3" height="41" fill="#2ecc71"/>
<rect x="994" y="686" width="3" height="39" fill="#2ecc71"/>
<rect x="998" y="689" width="3" height="36" fill="#2ecc71"/>
<rect x="1002" y="691" width="3" height="34" fill="#2ecc71"/>
<rect x="1006" y="695" width="3" height="30" fill="#2ecc71"/>
<rect x="1010" y="700" width="3" height="25" fill="#2ecc71"/>
<rect x="1014" y="703" width="3" height="22" fill="#2ecc71"/>
<rect x="1018" y="705" width="3" height="20" fill="#2ecc71"/>
<rect x="1022" y="706" width="3" height="19" fill="#2ecc71"/>
<rect x="1026" y="709" width="3" height="16" fill="#2ecc71"/>
<rect x="1030" y="712" width="3" height="13" fill="#2ecc71"/>
<rect x="1034" y="715" width="3" height="10" fill="#2ecc71"/>
<rect x="1038" y="714" width="3" height="11" fill="#2ecc71"/>
<rect x="1042" y="713" width="3" height="12" fill="#2ecc71"/>
<rect x="1046" y="712" width="3" height="13" fill="#2ecc71"/>
<rect x="1050" y="713" width="3" height="12" fill="#2ecc71"/>
<rect x="1054" y="713" width="3" height="12" fill="#2ecc71"/>
<rect x="1058" y="713" width="3" height="12" fill="#2ecc71"/>
<rect x="1062" y="714" width="3" height="11" fill="#2ecc71"/>
<rect x="1066" y="717" width="3" height="8" fill="#2ecc71"/>
<rect x="1070" y="720" width="3" height="5" fill="#2ecc71"/>
<rect x="1074" y="722" width="3" height="3" fill="#2ecc71"/>
<rect x="1078" y="723" width="3" height="2" fill="#2ecc71"/>
<rect x="1082" y="723" width="3" height="2" fill="#2ecc71"/>
<rect x="1086" y="724" width="3" height="1" fill="#2ecc71"/>
<rect x="1090" y="724" width="3" height="1" fill="#2ecc71"/>
<rect x="1094" y="724" width="3" height="1" fill="#2ecc71"/>
<rect x="1098" y="724" width="3" height="1" fill="#2ecc71"/>
<rect x="1102" y="724" width="3" height="1" fill="#2ecc71"/>
<rect x="1106" y="725" width="3" height="1" fill="#2ecc71"/>
<rect x="1110" y="724" width="3" height="1" fill="#2ecc71"/>
<rect x="1114" y="723" width="3" height="2" fill="#2ecc71"/>
<rect x="1118" y="722" width="3" height="3" fill="#2ecc71"/>
<rect x="1122" y="722" width="3" height="3" fill="#2ecc71"/>
<rect x="1126" y="719" width="3" height="6" fill="#2ecc71"/>
<rect x="1130" y="713" width="3" height="12" fill="#2ecc71"/>
<rect x="1134" y="700" width="3" height="25" fill="#2ecc71"/>
<rect x="1138" y="692" width="3" height="33" fill="#2ecc71"/>
<rect x="1142" y="685" width="3" height="40" fill="#2ecc71"/>
<rect x="1146" y="681" width="3" height="44" fill="#2ecc71"/>
<rect x="1150" y="679" width="3" height="46" fill="#2ecc71"/>
<rect x="1154" y="678" width="3" height="47" fill="#2ecc71"/>
<rect x="1158" y="678" width="3" height="47" fill="#2ecc71"/>
<rect x="1162" y="679" width="3" height="46" fill="#2ecc71"/>
<rect x="1166" y="680" width="3" height="45" fill="#2ecc71"/>
<rect x="1170" y="683" width="3" height="42" fill="#2ecc71"/>
<rect x="1174" y="684" width="3" height="41" fill="#2ecc71"/>
<rect x="1178" y="683" width="3" height="42" fill="#2ecc71"/>
<rect x="1182" y="684" width="3" height="41" fill="#2ecc71"/>
<rect x="1186" y="686" width="3" height="39" fill="#2ecc71"/>
<rect x="1190" y="689" width="3" height="36" fill="#2ecc71"/>
<rect x="1194" y="691" width="3" height="34" fill="#2ecc71"/>
<rect x="1198" y="693" width="3" height="32" fill="#2ecc71"/>
<rect x="1202" y="693" width="3" height="32" fill="#2ecc71"/>
<rect x="1206" y="692" width="3" height="33" fill="#2ecc71"/>
<rect x="1210" y="690" width="3" height="35" fill="#2ecc71"/>
<rect x="1214" y="690" width="3" height="35" fill="#2ecc71"/>
<rect x="1218" y="689" width="3" height="36" fill="#2ecc71"/>
<rect x="1222" y="687" width="3" height="38" fill="#2ecc71"/>
<rect x="1226" y="687" width="3" height="38" fill="#2ecc71"/>
</g>
<polyline points="0.0,753.1 8.6,752.0 17.2,749.5 25.8,745.6 34.4,741.9 43.0,737.0 51.6,733.8 60.2,731.0 68.8,728.8 77.4,727.8 86.0,726.3 94.6,724.5 97.8,724.5 105.3,727.3 111.8,731.6 120.4,737.0 128.9,741.9 137.5,745.2 146.1,746.7 150.4,746.2 159.0,743.9 167.6,740.7 176.2,737.4 184.8,734.2 193.4,732.1 202.0,729.5 209.5,729.5 217.1,729.5 223.5,731.6 230.0,732.3 236.4,734.8 240.7,735.5 249.3,735.5 257.9,735.5 266.5,735.5 275.1,737.6 283.7,739.8 292.3,742.8 300.9,746.0 309.5,748.2 318.6,751.0 327.2,754.2 335.8,757.0 344.4,758.9 353.0,757.0 361.6,752.0 370.2,744.9 378.8,738.1 387.4,733.8 392.7,733.3 398.1,734.8 404.6,739.1 413.2,744.5 421.8,749.9 430.4,753.5 436.8,753.1 443.2,751.0 451.8,747.1 460.4,742.8 469.0,737.0 477.6,732.1 486.2,727.8 494.8,723.5 503.4,719.8 512.0,718.1 520.6,717.2 529.2,716.1 535.7,714.9 542.1,712.3 550.7,709.5 559.3,706.9 567.9,705.4 576.5,705.2 582.9,705.8 589.4,708.0 598.0,713.4 606.6,719.8 615.2,727.3 628.6,735.5 639.3,737.4 647.9,736.4 656.5,733.3 665.1,730.5 673.7,727.8 682.3,726.9 690.9,726.7 699.5,726.7 708.1,726.3 716.7,725.6 725.3,723.0 733.9,720.4 742.5,718.7 751.1,716.6 759.7,712.7 768.3,708.4 776.9,705.8 784.4,705.4 791.9,708.6 800.5,714.4 809.1,719.8 817.7,725.2 826.3,730.1 834.9,734.2 843.5,736.4 852.1,736.4 860.7,735.5 869.3,733.3 877.9,730.1 886.5,726.3 895.1,722.6 903.7,720.4 912.3,720.9 920.9,723.5 929.5,726.7 938.6,727.3 947.2,725.2 955.8,722.0 964.4,716.6 973.0,709.7 981.6,702.6 990.2,695.7 998.8,689.7 1004.1,688.2 1009.5,688.6 1016.0,691.4 1024.6,696.6 1033.2,702.6 1041.8,707.3 1050.4,710.8 1058.9,712.9 1067.5,714.0 1076.1,715.5 1084.7,718.3 1093.3,720.4 1101.9,722.6 1108.4,724.5 1117.0,724.5 1125.6,723.5 1134.2,720.4 1142.8,713.4 1151.4,703.7 1160.0,692.9 1168.6,684.3 1175.0,681.1 1179.3,680.5 1185.7,681.8 1194.3,683.9 1202.9,686.9 1211.5,689.3 1220.1,690.4 1227.2,690.4" fill="none" stroke="#e8384a" stroke-width="1" stroke-linejoin="round" shape-rendering="crispEdges"/>
<g shape-rendering="crispEdges">
<line x1="2" y1="794.5" x2="1602" y2="794.5" stroke="#d6d3cc" stroke-width="1" stroke-dasharray="3 3"/>
<line x1="2" y1="826.5" x2="1602" y2="826.5" stroke="#d6d3cc" stroke-width="1" stroke-dasharray="3 3"/>
</g>
<polyline points="0.0,820.2 4.3,821.9 7.5,821.5 11.2,823.6 19.3,809.4 23.6,811.1 27.5,812.6 31.8,805.8 35.5,805.3 39.8,807.3 44.1,809.4 47.7,815.4 51.6,818.2 55.4,813.3 59.7,805.8 63.4,803.6 67.7,806.2 72.0,810.5 76.3,807.3 79.9,809.4 83.8,812.2 87.7,809.4 91.3,807.3 95.0,811.1 98.9,820.2 103.2,825.8 107.5,827.7 111.3,827.3 116.1,823.0 120.4,820.2 123.6,822.5 127.4,816.5 131.1,819.3 135.4,815.4 139.3,816.5 143.6,817.2 147.2,818.2 152.2,809.4 155.8,810.5 160.1,810.5 164.4,812.6 167.6,811.1 171.5,807.3 175.2,811.1 179.5,813.3 183.8,811.6 187.4,813.3 191.3,809.0 195.1,806.8 199.4,799.3 203.1,813.7 207.4,819.3 211.7,817.6 215.6,815.4 219.2,817.2 223.5,814.4 227.8,813.3 233.2,813.3 236.4,814.8 239.6,816.1 243.9,813.7 247.2,813.3 251.5,816.1 255.7,813.3 260.0,814.8 263.3,818.2 267.6,820.2 271.9,825.1 276.2,824.0 279.4,825.1 283.7,822.5 288.0,820.4 291.2,818.2 295.5,825.1 299.8,824.5 304.1,825.8 308.4,825.1 314.3,829.4 318.6,833.3 322.9,833.7 327.2,828.8 331.5,830.5 335.8,825.8 340.1,825.1 344.4,813.3 350.8,812.6 355.1,807.9 359.9,802.1 363.7,805.8 367.6,810.5 372.3,811.8 376.6,813.3 380.9,812.2 384.1,813.3 388.4,820.8 392.7,825.8 396.0,827.7 400.3,827.7 403.5,828.8 407.1,823.0 411.0,825.8 415.3,825.1 419.6,824.0 423.9,822.5 427.8,823.6 431.4,818.2 435.7,808.6 438.9,811.1 443.2,813.3 447.5,809.4 451.8,809.4 455.7,813.3 459.4,810.5 463.7,806.8 467.5,803.6 472.3,805.8 476.6,805.1 479.8,804.3 483.7,815.4 487.3,802.1 491.6,801.0 494.8,802.5 499.1,806.8 503.4,809.4 507.7,810.5 511.6,810.5 515.2,805.8 519.5,804.3 523.8,806.2 527.7,800.4 531.4,802.1 535.2,799.8 540.0,802.1 544.3,801.5 548.1,803.6 551.8,802.5 556.1,801.5 559.3,803.2 563.6,801.5 567.9,800.4 571.8,799.3 575.4,800.4 579.7,811.1 582.9,816.5 587.2,820.2 591.5,817.2 594.8,815.4 599.1,814.4 602.3,816.1 606.6,820.2 610.9,822.5 615.2,819.7 624.3,813.3 628.6,812.9 632.5,810.5 636.1,809.4 640.4,810.5 644.1,812.6 647.5,814.4 651.8,811.1 655.5,804.7 659.8,805.8 663.6,808.3 667.7,806.2 671.6,804.7 675.4,810.5 679.7,815.4 683.4,815.4 687.7,814.4 691.6,815.4 695.2,815.4 699.5,805.8 703.4,801.5 707.5,805.1 711.3,806.4 715.6,806.2 719.5,804.3 723.2,805.8 727.5,803.6 731.3,803.6 735.4,805.1 739.3,808.3 743.1,802.5 747.4,800.0 751.5,793.3 755.4,791.4 759.3,791.4 763.3,790.1 767.2,798.2 771.5,807.9 775.2,813.3 779.5,813.3 783.3,812.2 787.6,809.6 791.5,813.3 795.6,815.4 799.5,815.4 803.3,817.2 807.4,819.1 811.3,821.5 815.6,821.5 819.4,817.6 823.5,822.5 827.4,814.8 831.3,813.9 835.3,812.2 839.2,812.9 843.5,815.4 847.4,808.3 851.5,813.3 855.3,812.2 859.2,813.3 863.3,813.3 867.2,804.7 871.5,803.6 875.3,801.5 879.4,802.5 883.3,806.8 887.6,798.9 891.4,803.6 895.5,813.3 899.4,812.2 903.3,812.2 907.3,813.3 911.2,815.4 915.5,818.2 919.4,819.3 923.5,812.2 927.3,806.8 934.7,806.2 939.2,797.8 944.0,806.2 947.2,805.3 951.5,806.4 955.4,805.3 959.4,805.3 963.3,795.0 967.6,793.3 971.5,795.5 975.6,795.0 979.4,793.9 983.3,793.3 987.4,795.0 991.7,796.5 995.5,800.0 999.4,801.0 1003.5,801.5 1007.4,806.8 1011.7,809.4 1015.5,809.4 1019.6,804.3 1023.5,806.2 1027.4,809.0 1031.4,812.6 1035.3,811.6 1039.6,804.7 1043.5,803.2 1047.6,803.2 1051.4,805.1 1055.3,807.3 1059.6,805.3 1063.7,805.3 1067.5,813.9 1071.4,813.3 1075.5,814.4 1079.4,812.2 1083.2,809.6 1087.5,811.6 1091.6,810.5 1095.5,809.4 1099.4,809.4 1103.4,808.3 1107.3,813.7 1111.6,807.3 1115.5,806.2 1119.6,806.2 1123.4,807.3 1127.3,802.5 1131.4,791.8 1135.2,784.9 1139.5,783.2 1143.4,785.4 1147.5,785.8 1151.4,791.4 1155.2,790.1 1159.3,791.8 1163.2,793.9 1167.5,795.0 1171.3,796.5 1175.4,793.9 1179.3,791.8 1183.2,797.2 1187.3,799.3 1191.1,799.8 1195.4,799.8 1199.3,799.3 1203.4,796.5 1207.2,793.5 1211.1,790.3 1215.2,791.4 1219.1,790.3 1223.4,788.6 1227.2,790.7" fill="none" stroke="#2a6cf6" stroke-width="1" stroke-linejoin="round" shape-rendering="crispEdges"/>
<polygon points="1226.5,4 1238.5,4 1232.5,10.2" fill="#7b8ba1"/>
<rect x="1408" y="284" width="4" height="3" fill="#000"/>
<g stroke="#fff" stroke-width="3.3" fill="none" stroke-linecap="butt" stroke-linejoin="bevel" shape-rendering="crispEdges"><line x1="1352.4" y1="87.4" x2="1370.3" y2="38.5"/><polyline points="1360.6,46.8 1370.3,38.5 1369.9,52.3"/></g>
<g stroke="#ee1c25" stroke-width="3" fill="none" stroke-linecap="butt" stroke-linejoin="bevel" shape-rendering="crispEdges"><line x1="1267.5" y1="118.1" x2="1302.8" y2="211.2"/><polyline points="1290,200.3 1302.8,211.2 1302.5,191.5"/></g>
<g stroke="#ee1c25" stroke-width="3" fill="none" stroke-linecap="butt" stroke-linejoin="bevel" shape-rendering="crispEdges"><line x1="1327.4" y1="214.8" x2="1346.3" y2="167.7"/><polyline points="1334.8,174.9 1346.3,167.7 1346.7,182.6"/></g>
<g stroke="#ee1c25" stroke-width="3" fill="none" stroke-linecap="butt" stroke-linejoin="bevel" shape-rendering="crispEdges"><line x1="1343.3" y1="266.7" x2="1360.8" y2="310.2"/><polyline points="1351,303.7 1360.8,310.2 1361.9,293.8"/></g>
<g font-family="'Liberation Sans', sans-serif" font-size="13" fill="#fff" letter-spacing="-0.15">
<text x="-4.6" y="18">1.09270</text>
<text x="1611" y="19">1.10530</text>
<text x="1611" y="68">1.10000</text>
<text x="1611" y="117">1.09460</text>
<text x="1611" y="166">1.08930</text>
<text x="1611" y="215">1.08400</text>
<text x="1611" y="264">1.07870</text>
<text x="1611" y="313">1.07340</text>
<text x="1611" y="362">1.06810</text>
<text x="1611" y="411">1.06280</text>
<text x="1611" y="460">1.05750</text>
<text x="1611" y="509">1.05210</text>
<text x="1611" y="558">1.04680</text>
<text x="1611" y="607">1.04150</text>
<text x="1611" y="656">1.03620</text>
<text x="1608" y="686">0.005285</text>
<text x="1608" y="730">0.00</text>
<text x="1608" y="763">-0.004092</text>
<text x="1608" y="781.5">100</text>
<text x="1608" y="798.5">70</text>
<text x="1608" y="830.5">30</text>
<text x="1608" y="848.5">0</text>
</g>
<g shape-rendering="crispEdges"><rect x="1606" y="99" width="56" height="14" fill="#fff"/><rect x="1606" y="123" width="56" height="14" fill="#fff"/></g>
<g font-family="'Liberation Sans', sans-serif" font-size="13" fill="#0a1f44" letter-spacing="-0.15">
<text x="1611" y="110.5">1.09542</text>
<text x="1611" y="135">1.09270</text>
</g>
<text x="538.9" y="166.2" textLength="106.6" lengthAdjust="spacingAndGlyphs" font-family="'Liberation Sans', sans-serif" font-weight="bold" font-size="22" fill="#fff" stroke="#fff" stroke-width="0.95" stroke-linejoin="round">EURUSD</text>
<text x="539.3" y="206.3" textLength="109.3" lengthAdjust="spacingAndGlyphs" font-family="'Liberation Sans', sans-serif" font-weight="bold" font-size="22" fill="#fff" stroke="#fff" stroke-width="0.95" stroke-linejoin="round">H4 Chart</text>
<text x="1312.2" y="27.85" textLength="60.4" lengthAdjust="spacingAndGlyphs" font-family="'Liberation Sans', sans-serif" font-weight="bold" font-size="15.6" fill="#1e90ff" stroke="#1e90ff" stroke-width="0.8" stroke-linejoin="round">1.1060</text>
<text x="1263.2" y="93.75" textLength="61.1" lengthAdjust="spacingAndGlyphs" font-family="'Liberation Sans', sans-serif" font-weight="bold" font-size="15.6" fill="#fff" stroke="#fff" stroke-width="0.8" stroke-linejoin="round">1.0960</text>
<text x="1267.2" y="250.85" textLength="60.4" lengthAdjust="spacingAndGlyphs" font-family="'Liberation Sans', sans-serif" font-weight="bold" font-size="15.6" fill="#1e90ff" stroke="#1e90ff" stroke-width="0.8" stroke-linejoin="round">1.0820</text>
<text x="1283.2" y="331.75" textLength="61.1" lengthAdjust="spacingAndGlyphs" font-family="'Liberation Sans', sans-serif" font-weight="bold" font-size="15.6" fill="#fff" stroke="#fff" stroke-width="0.8" stroke-linejoin="round">1.0755</text>
</svg>
</body></html>
